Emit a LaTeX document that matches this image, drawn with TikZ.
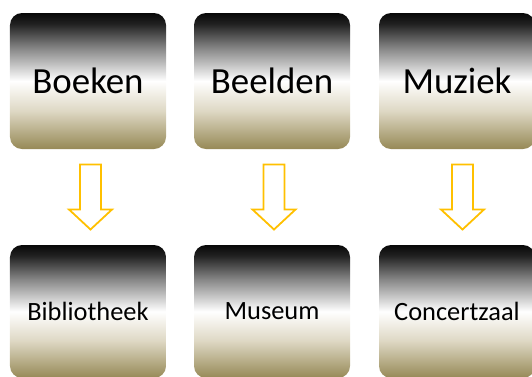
\documentclass[tikz,border=0pt]{standalone}
\usepackage{fontspec}
\setmainfont{Carlito}
\usetikzlibrary{calc}

% Vertical fill of the boxes: black at the top, white a little below the middle,
% olive at the bottom (the shading's 25bp..75bp band is mapped onto the box)
\definecolor{boxtop}{RGB}{8,8,8}
\definecolor{boxgray}{RGB}{135,135,135}
\definecolor{boxwhite}{RGB}{255,255,255}
\definecolor{boxcream}{RGB}{222,216,196}
\definecolor{boxolive}{RGB}{150,137,86}
\definecolor{arrowgold}{RGB}{255,192,0}
\pgfdeclareverticalshading{boxshade}{100bp}{%
  color(0bp)=(boxolive);
  color(25bp)=(boxolive);
  color(39bp)=(boxcream);
  color(50bp)=(boxwhite);
  color(62bp)=(boxgray);
  color(71bp)=(boxtop!80!boxgray);
  color(75bp)=(boxtop);
  color(100bp)=(boxtop)}

\tikzset{
  catbox/.style={rectangle, rounded corners=12bp, shading=boxshade,
    minimum width=156bp, inner sep=0pt, text=black},
  topbox/.style={catbox, minimum height=136bp, font=\fontsize{37}{44}\selectfont},
  placebox/.style={catbox, minimum height=133bp, font=\fontsize{26.5}{32}\selectfont},
  downarrow/.style={draw=arrowgold, line width=1.8bp, fill=white, line join=miter}
}

\newcommand{\blockarrow}[1]{%
  % hollow block arrow centred on coordinate #1, pointing down
  \draw[downarrow] ($(#1)+(-10.5,-32.5)$) -- ($(#1)+(10.5,-32.5)$)
    -- ($(#1)+(10.5,12.5)$) -- ($(#1)+(21.5,12.5)$) -- ($(#1)+(0,32.5)$)
    -- ($(#1)+(-21.5,12.5)$) -- ($(#1)+(-10.5,12.5)$) -- cycle;}

\begin{document}
\begin{tikzpicture}[x=1bp,y=-1bp]
  \useasboundingbox (0,0) rectangle (532,376);

  % top row: what is collected
  \node[topbox] (boeken)  at (88,81)  {Boeken};
  \node[topbox] (beelden) at (272,81) {Beelden};
  \node[topbox] (muziek)  at (457,81) {Muziek};

  % bottom row: where it is kept
  \node[placebox] (bib)     at (88,311.5)  {Bibliotheek};
  \node[placebox] (museum)  at (272,311.5) {Museum};
  \node[placebox] (concert) at (457,311.5) {Concertzaal};

  % arrows between the rows
  \coordinate (a1) at ($($(boeken.south)!0.5!(bib.north)$)+(2.5,0)$);
  \coordinate (a2) at ($($(beelden.south)!0.5!(museum.north)$)+(2,0)$);
  \coordinate (a3) at ($($(muziek.south)!0.5!(concert.north)$)+(5.5,0)$);
  \blockarrow{a1}
  \blockarrow{a2}
  \blockarrow{a3}
\end{tikzpicture}
\end{document}
